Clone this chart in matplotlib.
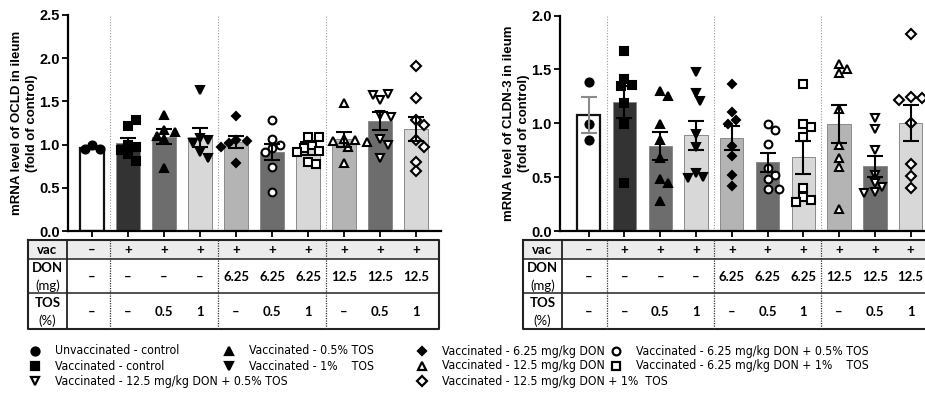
import numpy as np
import matplotlib
matplotlib.use("Agg")
import matplotlib.pyplot as plt
from matplotlib import transforms
from matplotlib import font_manager as fm

# ---------------------------------------------------------------- data
groups = [
    "Unvaccinated - control",
    "Vaccinated - control",
    "Vaccinated - 0.5% TOS",
    "Vaccinated - 1%    TOS",
    "Vaccinated - 6.25 mg/kg DON",
    "Vaccinated - 6.25 mg/kg DON + 0.5% TOS",
    "Vaccinated - 6.25 mg/kg DON + 1%    TOS",
    "Vaccinated - 12.5 mg/kg DON",
    "Vaccinated - 12.5 mg/kg DON + 0.5% TOS",
    "Vaccinated - 12.5 mg/kg DON + 1%  TOS",
]
vac_row = ["–", "+", "+", "+", "+", "+", "+", "+", "+", "+"]
don_row = ["–", "–", "–", "–", "6.25", "6.25", "6.25", "12.5", "12.5", "12.5"]
tos_row = ["–", "–", "0.5", "1", "–", "0.5", "1", "–", "0.5", "1"]

ocld_mean = [0.96, 1.015, 1.09, 1.085, 1.03, 0.915, 0.955, 1.06, 1.275, 1.18]
ocld_sem = [0.01, 0.065, 0.085, 0.11, 0.07, 0.095, 0.075, 0.085, 0.105, 0.14]
ocld_points = [
    [1.00, 0.945, 0.945],
    [1.22, 1.29, 1.00, 0.97, 0.94, 0.89, 0.81],
    [1.34, 1.17, 1.15, 1.10, 1.06, 0.73],
    [1.63, 1.08, 1.05, 1.02, 0.91, 0.84],
    [1.33, 1.05, 1.04, 1.02, 0.97, 0.79],
    [1.285, 1.07, 0.99, 0.96, 0.91, 0.745, 0.455],
    [1.09, 1.09, 1.00, 0.96, 0.93, 0.92, 0.80, 0.77],
    [1.48, 1.06, 1.05, 1.04, 1.03, 0.97, 0.79],
    [1.52, 1.59, 1.57, 1.34, 1.32, 1.07, 1.00, 0.85],
    [1.91, 1.535, 1.285, 1.227, 1.053, 0.976, 0.795, 0.698],
]

cldn_mean = [1.075, 1.20, 0.785, 0.89, 0.865, 0.637, 0.683, 0.991, 0.60, 1.00]
cldn_sem = [0.165, 0.15, 0.13, 0.135, 0.11, 0.085, 0.15, 0.175, 0.10, 0.165]
cldn_points = [
    [1.387, 0.994, 0.845],
    [1.672, 1.412, 1.356, 1.347, 1.186, 0.991, 0.443],
    [1.30, 1.25, 0.99, 0.845, 0.675, 0.48, 0.45, 0.28],
    [1.474, 1.279, 1.208, 0.901, 0.783, 0.542, 0.505, 0.495],
    [1.366, 1.102, 1.031, 0.994, 0.793, 0.697, 0.52, 0.418],
    [0.994, 0.938, 0.808, 0.582, 0.52, 0.483, 0.39, 0.39],
    [1.366, 0.994, 0.969, 0.876, 0.402, 0.313, 0.288, 0.266],
    [1.551, 1.505, 1.465, 1.13, 0.799, 0.681, 0.597, 0.20],
    [1.053, 0.945, 0.752, 0.52, 0.443, 0.412, 0.365, 0.35],
    [1.83, 1.24, 1.23, 1.22, 1.006, 0.622, 0.511, 0.396],
]

# ---------------------------------------------------------------- styles
bar_colors = ["#ffffff", "#333333", "#6d6d6d", "#d8d8d8", "#b4b4b4",
              "#6d6d6d", "#d8d8d8", "#b4b4b4", "#6d6d6d", "#d8d8d8"]
markers = ["o", "s", "^", "v", "D", "o", "s", "^", "v", "D"]
filled = [True, True, True, True, True, False, False, False, False, False]
msize = [5.8, 5.6, 6.0, 6.0, 4.4, 5.6, 5.6, 6.0, 6.0, 4.8]

W, H = 925, 394
fig = plt.figure(figsize=(W / 100, H / 100), dpi=100)
plt.rcParams["font.family"] = ["Liberation Sans", "DejaVu Sans"]


def narrow_font():
    """A condensed sans-serif regular face if one is installed."""
    prefs = ["liberationsansnarrow-regular", "notosans-condensed.", "notosans-condensed",
             "dejavusanscondensed.", "roboto_condensed-regular", "robotocondensed-regular"]
    files = [f.fname for f in fm.fontManager.ttflist]
    low = {fn.lower().replace(" ", ""): fn for fn in files}
    for p in prefs:
        for k, fn in low.items():
            base = k.rsplit("/", 1)[-1]
            if base.startswith(p) and "bold" not in base and "italic" not in base:
                return fm.FontProperties(fname=fn)
    return None


leg_fp = narrow_font()

# overlay axes in pixel units for the tables and the legend
ov = fig.add_axes([0, 0, 1, 1], zorder=5)
ov.set_xlim(0, W)
ov.set_ylim(H, 0)
ov.axis("off")
ov.patch.set_alpha(0)


def px_axes(left, top, right, bottom):
    return fig.add_axes([left / W, 1 - bottom / H, (right - left) / W, (bottom - top) / H])


def swarm(vals, ax, x0, diam):
    """Spread overlapping points sideways (offsets in data-x units)."""
    p0 = ax.transData.transform((0, 0))
    p1 = ax.transData.transform((1, 1))
    sx, sy = p1[0] - p0[0], p1[1] - p0[1]
    placed = []
    xs = []
    cands = [0]
    for k in range(1, 8):
        cands += [k * 0.5, -k * 0.5]
    for v in vals:
        ypx = v * sy
        for c in cands:
            xpx = c * diam
            if all((xpx - a) ** 2 + (ypx - b) ** 2 >= (1.05 * diam) ** 2 for a, b in placed):
                placed.append((xpx, ypx))
                xs.append(x0 + xpx / sx)
                break
    return np.array(xs)


def panel(ax, means, sems, points, ymax, ylabel, xlim, white_err):
    x = np.arange(len(means))
    ax.set_xlim(*xlim)
    ax.set_ylim(0, ymax)
    for i in range(len(means)):
        ec = "#111111" if i == 0 else "#8a8a8a"
        lw = 1.6 if i == 0 else 0.7
        ax.bar(x[i], means[i], width=0.65, color=bar_colors[i], edgecolor=ec,
               linewidth=lw, zorder=2)
    for b in (0.5, 3.5, 6.5):
        ax.plot([b, b], [0, ymax], ls=(0, (1, 1.5)), color="#9a9a9a", lw=0.8, zorder=1)
    for i in range(len(means)):
        xs = swarm(points[i], ax, x[i], 7.5)
        fc = "black" if filled[i] else "white"
        ax.plot(xs, points[i], ls="none", marker=markers[i], ms=msize[i],
                mfc=fc, mec="black", mew=1.5, zorder=3)
    for i in range(len(means)):
        col = white_err if i == 0 else "black"
        ax.errorbar(x[i], means[i], yerr=sems[i], fmt="none", ecolor=col,
                    elinewidth=1.5, capsize=5.5, capthick=1.5, zorder=4)
    for s in ("top", "right"):
        ax.spines[s].set_visible(False)
    for s in ("left", "bottom"):
        ax.spines[s].set_linewidth(1.6)
    ax.set_xticks(x)
    ax.tick_params(axis="x", length=4, width=1.3, labelbottom=False)
    ax.tick_params(axis="y", length=4, width=1.3, labelsize=10.5, pad=2)
    ax.set_ylabel(ylabel, fontsize=9.5, fontweight="bold", labelpad=1, linespacing=1.3)


def table(ax, left, sep, right, cols_x):
    top, r1, r2, bot = 240, 259, 293, 329
    tr = transforms.blended_transform_factory(ax.transData, ov.transData)
    ov.fill_between([left, right], top, r1, color="#ececec", lw=0, zorder=1)
    for yy in (r1, r2):
        ov.plot([left, right], [yy, yy], color="#222222", lw=1.1, zorder=3)
    ov.plot([left, right, right, left, left], [top, top, bot, bot, top],
            color="#222222", lw=1.5, zorder=3)
    ov.plot([sep, sep], [top, bot], color="#222222", lw=1.3, zorder=3)
    for b in (0.5, 3.5, 6.5):
        ov.plot([b, b], [top, bot], transform=tr, color="#333333", lw=0.9,
                ls=(0, (1, 1)), zorder=3)
    hx = (left + sep) / 2
    tf = dict(family=["Lato", "DejaVu Sans"], fontsize=9.5, ha="center", va="center", zorder=4)
    ov.text(hx, 250, "vac", fontweight="bold", **tf)
    ov.text(hx, 268, "DON", fontweight="bold", **tf)
    ov.text(hx, 286, "(mg)", **tf)
    ov.text(hx, 303, "TOS", fontweight="bold", **tf)
    ov.text(hx, 321, "(%)", **tf)
    for i, xc in enumerate(cols_x):
        ov.text(xc, 250, vac_row[i], transform=tr, fontweight="bold", **tf)
        ov.text(xc, 277, don_row[i], transform=tr, fontweight="bold", **tf)
        ov.text(xc, 312, tos_row[i], transform=tr, fontweight="bold", **tf)


ax1 = px_axes(68, 15, 441, 231)
panel(ax1, ocld_mean, ocld_sem, ocld_points, 2.5,
      "mRNA level of OCLD in ileum\n(fold of control)", (-0.67, 9.69), "black")
ax1.set_yticks([0, 0.5, 1.0, 1.5, 2.0, 2.5])
ax1.set_yticklabels(["0.0", "0.5", "1.0", "1.5", "2.0", "2.5"], fontweight="bold")

ax2 = px_axes(560, 15.5, 925, 231)
panel(ax2, cldn_mean, cldn_sem, cldn_points, 2.0,
      "mRNA level of CLDN-3 in ileum\n(fold of control)", (-0.8, 9.4), "#8a8a8a")
ax2.set_yticks([0, 0.5, 1.0, 1.5, 2.0])
ax2.set_yticklabels(["0.0", "0.5", "1.0", "1.5", "2.0"], fontweight="bold")

table(ax1, 28, 67, 439, np.arange(10))
table(ax2, 523, 562, 940, np.arange(10))

# ---------------------------------------------------------------- legend
leg_pos = [(35, 351), (35, 366), (229, 351), (229, 366), (422, 351),
           (616, 351), (616, 366), (422, 366), (35, 381), (422, 381)]
gap = 20


def leg_kwargs(size):
    if leg_fp is not None:
        fp = leg_fp.copy()
        fp.set_size(size)
        return dict(fontproperties=fp)
    return dict(family="Liberation Sans", fontsize=size)


# size the legend font to the column widths
renderer = fig.canvas.get_renderer()
probe = ov.text(0, 0, groups[5], **leg_kwargs(10))
w_long = probe.get_window_extent(renderer).width
probe.remove()
probe = ov.text(0, 0, groups[4], **leg_kwargs(10))
w_mid = probe.get_window_extent(renderer).width
probe.remove()
leg_size = min(10 * (910 - 616 - gap) / w_long, 10 * (616 - 422 - gap - 11) / w_mid)

for i, (lx, ly) in enumerate(leg_pos):
    fc = "black" if filled[i] else "white"
    ov.plot([lx], [ly], ls="none", marker=markers[i], ms=msize[i],
            mfc=fc, mec="black", mew=1.6, clip_on=False)
    ov.text(lx + gap, ly, groups[i], ha="left", va="center", **leg_kwargs(leg_size))

fig.savefig("out.png", dpi=100)
